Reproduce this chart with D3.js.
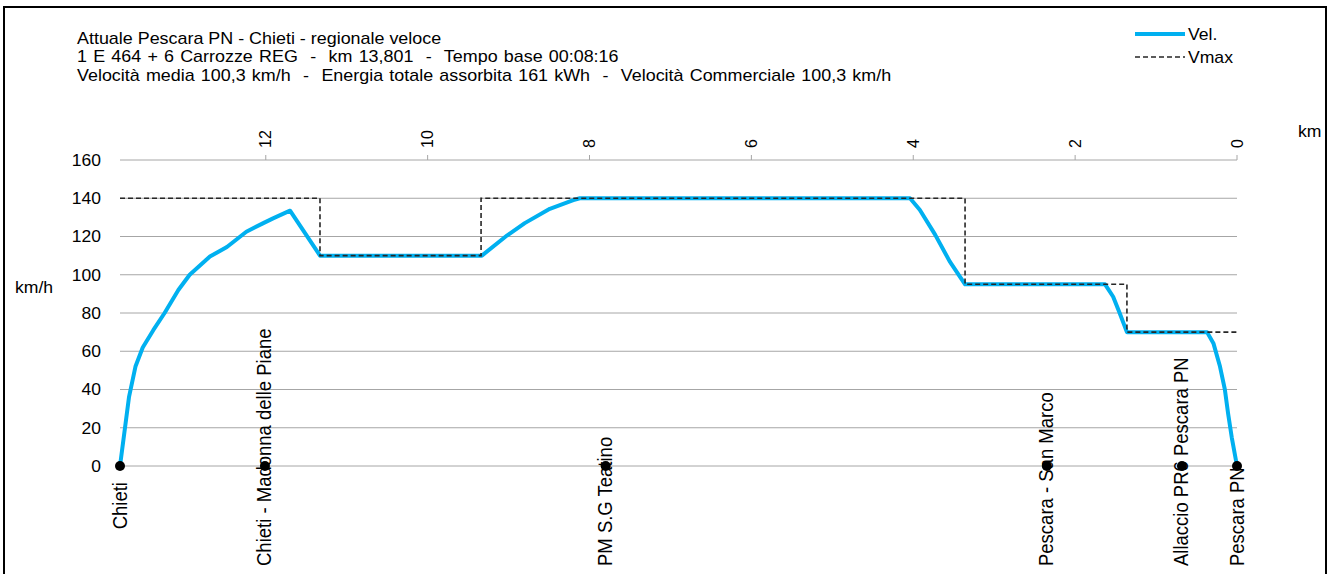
<!DOCTYPE html>
<html>
<head>
<meta charset="utf-8">
<script src="https://cdn.jsdelivr.net/npm/d3@7"></script>
<style>
  html, body { margin: 0; padding: 0; background: #fff; }
  svg { display: block; font-family: Arial, "Liberation Sans", sans-serif; }
  text { white-space: pre; fill: #000; }
</style>
</head>
<body>
<svg id="chart" width="1331" height="574"></svg>
<script>
// ---------------- data ----------------
const titleLines = [
  "Attuale Pescara PN - Chieti - regionale veloce",
  "1 E 464 + 6 Carrozze REG  -  km 13,801  -  Tempo base 00:08:16",
  "Velocità media 100,3 km/h  -  Energia totale assorbita 161 kWh  -  Velocità Commerciale 100,3 km/h"
];
const seriesNames = ["Vel.", "Vmax"];

// speed profile (km from Pescara PN, km/h)
const velKm  = [13.801, 13.69, 13.61, 13.52, 13.39, 13.25, 13.08, 12.94, 12.69, 12.48, 12.24, 12.03, 11.91, 11.70, 11.33,
                9.33, 9.02, 8.80, 8.49, 8.20, 8.12,
                4.04, 3.92, 3.73, 3.55, 3.36,
                1.63, 1.53, 1.45, 1.36,
                0.37, 0.29, 0.21, 0.15, 0.11, 0.065, 0];
const velVal = [0, 36, 52, 62, 71, 80, 92, 100, 109.5, 114.5, 122.5, 127, 129.5, 133.5, 110,
                110, 120.5, 127, 134.5, 139, 140,
                140, 134, 121, 107, 95,
                95, 88.5, 80, 70,
                70, 64, 52, 40, 27.5, 15, 0];

// speed limit steps (start km, value)
const vmaxKm  = [13.801, 11.33, 9.34, 3.36, 1.36, 0];
const vmaxVal = [140, 110, 140, 95, 70, 70];

// stations
const stationNames = ["Chieti", "Chieti - Madonna delle Piane", "PM S.G Teatino", "Pescara - San Marco", "Allaccio PR6 Pescara PN", "Pescara PN"];
const stationKm    = [13.801, 12.01, 7.80, 2.35, 0.68, 0];

const yTicks = [0, 20, 40, 60, 80, 100, 120, 140, 160];
const xTicks = [0, 2, 4, 6, 8, 10, 12];

// ---------------- chart ----------------
const svg = d3.select("#chart");
const x = d3.scaleLinear().domain([0, 13.801]).range([1237, 120]);
const y = d3.scaleLinear().domain([0, 160]).range([466, 160]);

// frame
svg.append("rect").attr("x", 4).attr("y", 7).attr("width", 1322).attr("height", 600)
  .attr("fill", "none").attr("stroke", "#000").attr("stroke-width", 2);

// title
const tg = svg.append("g").attr("transform", "translate(77,0) scale(1.12,1)");
titleLines.forEach((t, i) => {
  tg.append("text").attr("x", 0).attr("y", 44 + i * 18.5).attr("font-size", 16)
    .attr("word-spacing", i === 0 ? 0 : 1.1).text(t);
});

// gridlines
svg.append("g").selectAll("line").data(yTicks).join("line")
  .attr("x1", 120).attr("x2", 1237)
  .attr("y1", d => y(d)).attr("y2", d => y(d))
  .attr("stroke", "#a6a6a6").attr("stroke-width", 1);

// y axis labels
svg.append("g").selectAll("text").data(yTicks).join("text")
  .attr("transform", d => `translate(101,${y(d)}) scale(1.06,1)`).attr("dy", "0.36em")
  .attr("text-anchor", "end").attr("font-size", 16.5).text(d => d);

// top x axis (ticks + rotated labels)
const xg = svg.append("g");
xg.selectAll("line").data(xTicks).join("line")
  .attr("x1", d => x(d)).attr("x2", d => x(d))
  .attr("y1", y(160)).attr("y2", y(160) - 5)
  .attr("stroke", "#a6a6a6").attr("stroke-width", 1);
xg.selectAll("text").data(xTicks).join("text")
  .attr("transform", d => `translate(${x(d) + 5.5},148) rotate(-90)`)
  .attr("font-size", 16).text(d => d);

// axis titles
svg.append("text").attr("transform", "translate(15,293) scale(1.1,1)").attr("font-size", 16).text("km/h");
svg.append("text").attr("transform", "translate(1298,137) scale(1.1,1)").attr("font-size", 16).text("km");

// velocity line
const velData = velKm.map((k, i) => [k, velVal[i]]);
svg.append("path").datum(velData)
  .attr("d", d3.line().x(d => x(d[0])).y(d => y(d[1])))
  .attr("fill", "none").attr("stroke", "#00b0f0").attr("stroke-width", 4)
  .attr("stroke-linejoin", "round");

// vmax line
const vmaxData = vmaxKm.map((k, i) => [k, vmaxVal[i]]);
svg.append("path").datum(vmaxData)
  .attr("d", d3.line().x(d => x(d[0])).y(d => y(d[1])).curve(d3.curveStepAfter))
  .attr("fill", "none").attr("stroke", "#262626").attr("stroke-width", 1.6)
  .attr("stroke-dasharray", "5,3");

// stations
const sg = svg.append("g");
stationKm.forEach((k, i) => {
  sg.append("circle").attr("cx", x(k)).attr("cy", y(0)).attr("r", 5).attr("fill", "#000");
});
stationKm.forEach((k, i) => {
  const t = sg.append("text").attr("font-size", 18.5).text(stationNames[i]);
  const len = t.node().getComputedTextLength();
  const yb = Math.min(482 + len, 566);
  t.attr("transform", `translate(${x(k) + 6.5},${yb}) rotate(-90) scale(1,1.08)`);
});

// legend
const lg = svg.append("g");
lg.append("line").attr("x1", 1135).attr("x2", 1185).attr("y1", 34).attr("y2", 34)
  .attr("stroke", "#00b0f0").attr("stroke-width", 4);
lg.append("line").attr("x1", 1135).attr("x2", 1185).attr("y1", 57).attr("y2", 57)
  .attr("stroke", "#262626").attr("stroke-width", 1.6).attr("stroke-dasharray", "5,3");
lg.append("text").attr("transform", "translate(1188,40) scale(1.1,1)").attr("font-size", 16).text(seriesNames[0]);
lg.append("text").attr("transform", "translate(1188,63) scale(1.1,1)").attr("font-size", 16).text(seriesNames[1]);
</script>
</body>
</html>
